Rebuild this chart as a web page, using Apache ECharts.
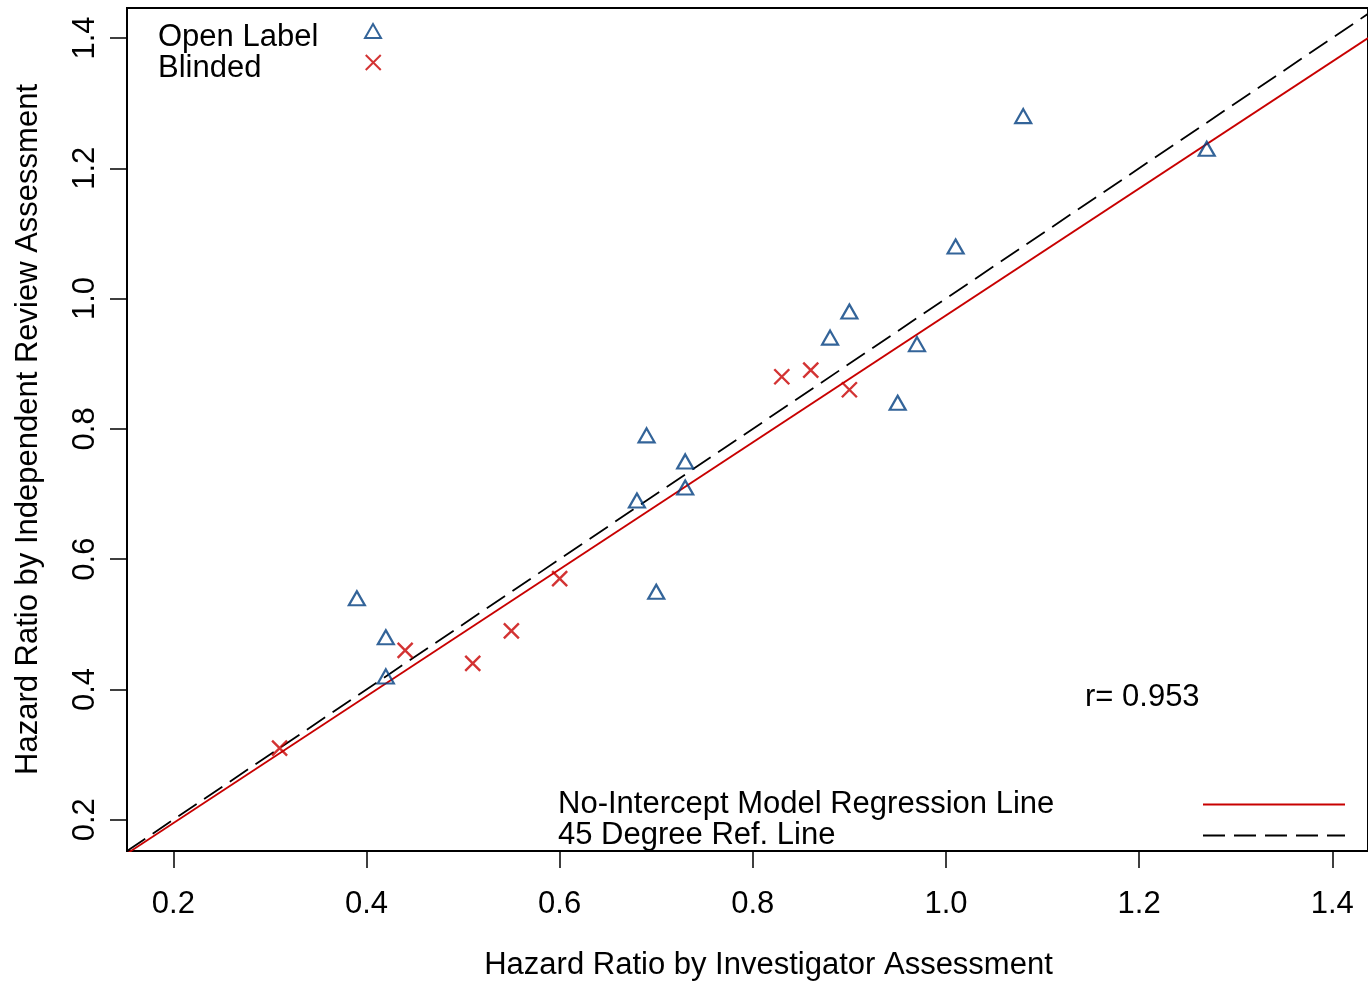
<!DOCTYPE html>
<html>
<head>
<meta charset="utf-8">
<script src="https://cdn.jsdelivr.net/npm/echarts@6/dist/echarts.min.js"></script>
<style>html,body{margin:0;padding:0;background:#fff}#c{width:1368px;height:982px}</style>
</head>
<body>
<div id="c"></div>
<script>
// Data
const openLabel = [
  [0.39,0.54],[0.42,0.48],[0.42,0.42],[0.68,0.69],[0.69,0.79],[0.73,0.75],
  [0.73,0.71],[0.70,0.55],[0.88,0.94],[0.90,0.98],[0.95,0.84],[0.97,0.93],
  [1.01,1.08],[1.08,1.28],[1.27,1.23]
];
const blinded = [
  [0.31,0.31],[0.44,0.46],[0.51,0.44],[0.55,0.49],[0.60,0.57],
  [0.83,0.88],[0.86,0.89],[0.90,0.86]
];
const tickValues = [0.2,0.4,0.6,0.8,1.0,1.2,1.4];
const seriesNames = ['Open Label','Blinded'];
const lineNames = ['No-Intercept Model Regression Line','45 Degree Ref. Line'];
const rText = 'r= 0.953';
const xRange = [0.152, 1.437];
const yRange = [0.152, 1.446];

// no-intercept slope computed from the data
const all = openLabel.concat(blinded);
let sxy = 0, syy = 0;
all.forEach(p => { sxy += p[0]*p[1]; syy += p[1]*p[1]; });
const slope = sxy / syy;

const FONT = '"Liberation Sans", Arial, Helvetica, sans-serif';
const BLUE = '#003d80';
const RED = '#c80000';
const FS = 31;
const CROSS = 'path://M0,0L10,10M10,0L0,10';
// legend icons with blank room below so the mark sits above the text centre
const TRI_ICON = 'path://M8,0L16,14L0,14Z M0,27';
const CROSS_ICON = 'path://M0.5,0L15.5,15M15.5,0L0.5,15M0,27';

const chart = echarts.init(document.getElementById('c'), null, {renderer:'canvas'});
const axisCommon = {
  type: 'value',
  splitLine: {show:false},
  axisLine: {show:false},
  axisTick: {show:true, customValues: tickValues, length: 17, lineStyle:{color:'#000', width:1.5}},
  nameLocation: 'middle'
};
chart.setOption({
  animation: false,
  grid: {left:127, top:8, width:1241, height:843, outerBoundsMode:'none', containLabel:false,
    show:true, borderColor:'#000', borderWidth:2, backgroundColor:'transparent'},
  xAxis: Object.assign({}, axisCommon, {
    min: xRange[0], max: xRange[1],
    name: 'Hazard Ratio by Investigator Assessment', nameGap: 99,
    nameTextStyle: {color:'#000', fontSize: FS, fontFamily: FONT, padding:[0,0,0,42]},
    axisLabel: {customValues: tickValues, formatter: v => v.toFixed(1), color:'#000', fontSize: FS, fontFamily: FONT, margin: 38}
  }),
  yAxis: Object.assign({}, axisCommon, {
    min: yRange[0], max: yRange[1],
    name: 'Hazard Ratio by Independent Review Assessment', nameGap: 83,
    nameTextStyle: {color:'#000', fontSize: FS, fontFamily: FONT},
    axisLabel: {customValues: tickValues, formatter: v => v.toFixed(1), color:'#000', fontSize: FS, fontFamily: FONT, margin: 26, rotate: 90}
  }),
  legend: [
    {
      data: [{name: seriesNames[0], icon: TRI_ICON}, {name: seriesNames[1], icon: CROSS_ICON}],
      orient:'vertical', left: 153, top: 17, align:'right',
      itemGap: 0, itemWidth: 16, itemHeight: 27, selectedMode:false,
      formatter: n => '{a|' + n + '}',
      textStyle: {color:'#000', fontSize: FS, fontFamily: FONT, lineHeight: 31,
        rich: {a: {width: 202, align:'left', color:'#000', fontSize: FS, fontFamily: FONT, lineHeight: 31}}}
    },
    {
      data: lineNames, orient:'vertical', left: 553, top: 784, align:'right',
      itemGap: 0, itemWidth: 142, itemHeight: 14, selectedMode:false,
      itemStyle: {opacity: 0},
      formatter: n => '{a|' + n + '}',
      textStyle: {color:'#000', fontSize: FS, fontFamily: FONT, lineHeight: 30,
        rich: {a: {width: 640, align:'left', color:'#000', fontSize: FS, fontFamily: FONT, lineHeight: 30}}}
    }
  ],
  graphic: [{
    type:'text', left: 1085, top: 682,
    style: {text: rText, fill:'#000', font: FS + 'px ' + FONT}
  }],
  series: [
    {
      name: lineNames[0], type:'line', symbol:'none', silent:true,
      data: [[xRange[0], slope*xRange[0]], [xRange[1], slope*xRange[1]]],
      lineStyle: {color: RED, width: 1.8}, itemStyle:{color:RED}, z: 2
    },
    {
      name: lineNames[1], type:'line', symbol:'none', silent:true,
      data: [[xRange[0], xRange[0]], [xRange[1], xRange[1]]],
      lineStyle: {color:'#000', width: 1.8, type:[22,9]}, itemStyle:{color:'#000'}, z: 2
    },
    {
      name: seriesNames[0], type:'scatter', data: openLabel,
      symbol:'triangle', symbolSize:[16,14],
      itemStyle: {color:'transparent', borderColor: BLUE, borderWidth: 2.2}, z: 3
    },
    {
      name: seriesNames[1], type:'scatter', data: blinded,
      symbol: CROSS, symbolSize:[15,15],
      itemStyle: {color:'transparent', borderColor: RED, borderWidth: 2.4}, z: 3
    }
  ]
});
</script>
</body>
</html>
